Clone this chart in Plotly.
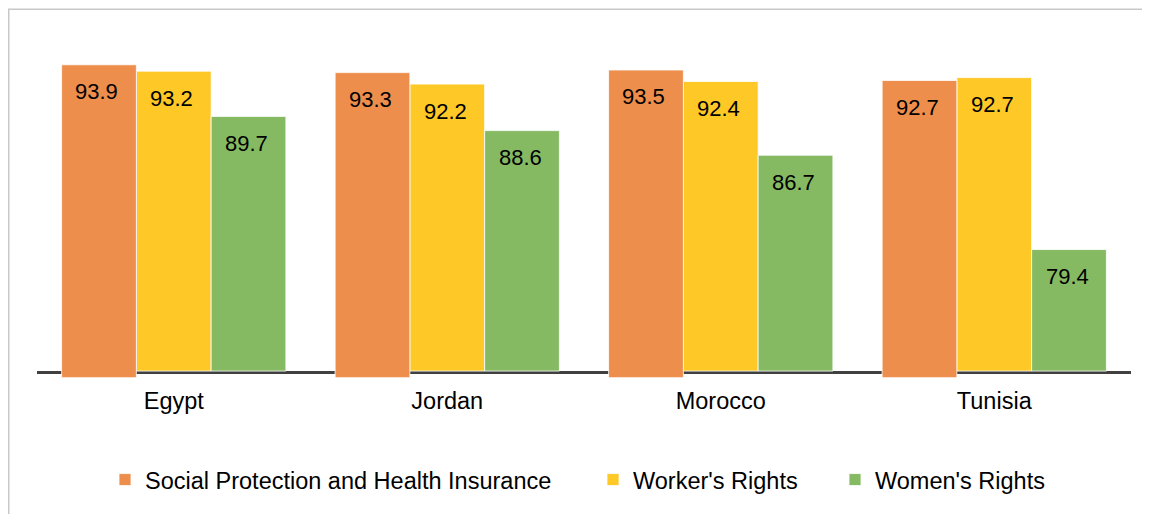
import plotly.graph_objects as go

countries = ["Egypt", "Jordan", "Morocco", "Tunisia"]
series_names = ["Social Protection and Health Insurance", "Worker's Rights", "Women's Rights"]
social_protection = [93.9, 93.3, 93.5, 92.7]
workers_rights = [93.2, 92.2, 92.4, 92.7]
womens_rights = [89.7, 88.6, 86.7, 79.4]

colors = ["#EE8E4C", "#FEC826", "#86BA62"]
FONT = "Liberation Sans, Arial, sans-serif"

# figure geometry (page adds an 8px body margin)
W, H = 1142, 506
L, R, T, B = 29, 19, 32, 132
PW = W - L - R
PH = H - T - B

fig = go.Figure()
all_vals = [social_protection, workers_rights, womens_rights]
yaxes = ["y2", "y", "y"]
legends = ["legend", "legend2", "legend3"]
for i, (name, vals) in enumerate(zip(series_names, all_vals)):
    fig.add_trace(go.Bar(
        x=countries, y=[v - 70 for v in vals], base=70,
        name=name, yaxis=yaxes[i], legend=legends[i],
        marker=dict(color=colors[i], line=dict(color="white", width=0.8)),
        offsetgroup=str(i), alignmentgroup="a",
        hoverinfo="skip",
    ))

# data labels
bar_w = PW / 4 * (1 - 0.18) / 3
shifts = [-bar_w - 2, -2, bar_w - 2]
annotations = []
for i, vals in enumerate(all_vals):
    for c, v in zip(countries, vals):
        annotations.append(dict(
            x=c, y=v, xref="x", yref=yaxes[i], text=f"{v:.1f}", showarrow=False,
            xshift=shifts[i], yshift=-27, yanchor="middle",
            font=dict(family=FONT, size=22, color="#000000"),
        ))

shapes = [
    # axis line
    dict(type="line", xref="paper", x0=0, x1=1, yref="y", ysizemode="pixel",
         yanchor=70, y0=-1.5, y1=-1.5, line=dict(color="#404040", width=3), layer="below"),
    # outer border
    dict(type="rect", xref="paper", yref="paper",
         x0=(0.75 - L) / PW, x1=1.1, y0=-0.6, y1=(PH + T - 1) / PH,
         line=dict(color="#C8C8C8", width=1.5), fillcolor="rgba(0,0,0,0)", layer="below"),
]

leg_font = dict(family=FONT, size=23.5, color="#000000")
leg_y = (PH + T - 477) / PH
leg_x_px = [97, 585, 827]
def leg(px):
    return dict(orientation="h", x=(px - L) / PW, xanchor="left", y=leg_y, yanchor="middle",
                font=leg_font, itemclick=False, itemdoubleclick=False,
                bgcolor="rgba(0,0,0,0)")

fig.update_layout(
    width=W, height=H,
    margin=dict(l=L, r=R, t=T, b=B),
    paper_bgcolor="white", plot_bgcolor="white",
    barmode="group", bargap=0.18, bargroupgap=0,
    font=dict(family=FONT, size=23.5, color="#000000"),
    xaxis=dict(showline=False, showgrid=False, zeroline=False, ticks="",
               tickfont=dict(family=FONT, size=23.5, color="#000000"), ticklabelstandoff=6),
    yaxis=dict(range=[69.465, 95.61], visible=False, showgrid=False, zeroline=False),
    yaxis2=dict(range=[69.977, 95.79], visible=False, showgrid=False, zeroline=False,
                overlaying="y"),
    legend=leg(leg_x_px[0]),
    legend2=leg(leg_x_px[1]),
    legend3=leg(leg_x_px[2]),
    annotations=annotations,
    shapes=shapes,
    showlegend=True,
)

fig.write_html("out.html")
